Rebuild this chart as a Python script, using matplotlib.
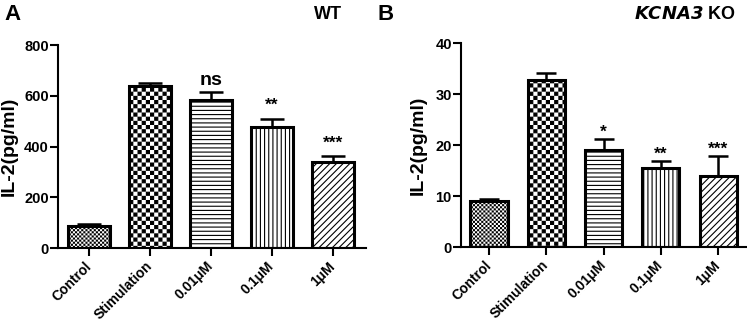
import numpy as np
import matplotlib
matplotlib.use('Agg')
import matplotlib.pyplot as plt
import matplotlib.hatch as mhatch
from matplotlib.path import Path

# checkerboard hatch, takes the place of the small-circle hatch ('o')
HATCH_LW = 0.8


class CheckerHatch(mhatch.HatchPatternBase):
    def __init__(self, hatch, density):
        self.num_cells = hatch.count('o') * 12
        self.num_vertices = (self.num_cells ** 2 // 2) * 5

    def set_vertices_and_codes(self, vertices, codes):
        n = self.num_cells
        s = 1.0 / n
        d = (HATCH_LW * 100 / 72) / 2 / 100
        k = 0
        for i in range(n):
            for j in range(n):
                if (i + j) % 2 == 0:
                    x, y = i * s + d, j * s + d
                    w = s - 2 * d
                    vertices[k:k + 5] = [[x, y], [x + w, y], [x + w, y + w], [x, y + w], [x, y]]
                    codes[k:k + 5] = [Path.MOVETO, Path.LINETO, Path.LINETO, Path.LINETO, Path.CLOSEPOLY]
                    k += 5


mhatch._hatch_types = [CheckerHatch if h is mhatch.SmallCircles else h for h in mhatch._hatch_types]

plt.rcParams['font.family'] = ['Liberation Sans', 'DejaVu Sans']
plt.rcParams['font.weight'] = 'bold'
plt.rcParams['hatch.linewidth'] = HATCH_LW

groups = ['Control', 'Stimulation', '0.01μM', '0.1μM', '1μM']
hatches = ['oooo', 'oo', '----', '||||', '/////']

wt_mean = [88, 638, 585, 478, 340]
wt_err = [6, 12, 30, 32, 22]
wt_sig = ['', '', 'ns', '**', '***']

ko_mean = [9.0, 32.8, 19.1, 15.5, 14.0]
ko_err = [0.5, 1.3, 2.0, 1.3, 3.8]
ko_sig = ['', '', '*', '**', '***']

fig = plt.figure(figsize=(7.47, 3.29), dpi=100)
axA = fig.add_axes([0.0776, 0.246, 0.412, 0.617])
axB = fig.add_axes([0.617, 0.249, 0.382, 0.620])


def panel(ax, mean, err, sig, ymax, ystep, width, xlim, capsize, star_pad, label_x):
    x = np.arange(len(groups))
    ax.errorbar(x, mean, yerr=[np.zeros(len(err)), err], fmt='none', ecolor='black',
                elinewidth=1.8, capsize=capsize, capthick=1.8, zorder=1)
    ax.bar(x, mean, width=width, color='white', edgecolor='black', linewidth=2.2,
           hatch=hatches, zorder=2)
    for xi, m, e, s in zip(x, mean, err, sig):
        if not s:
            continue
        if s == 'ns':
            fs, pad = 14, 2
        else:
            fs, pad = 12.5, star_pad
        ax.annotate(s, (xi, m + e), xytext=(0, pad), textcoords='offset points',
                    ha='center', va='bottom', fontsize=fs, fontweight='bold')
    ax.set_xlim(*xlim)
    ax.set_ylim(0, ymax)
    ax.set_yticks(np.arange(0, ymax + 1, ystep))
    ax.set_xticks(x)
    ax.set_xticklabels(groups, rotation=45, ha='right', va='center', rotation_mode='anchor')
    ax.set_ylabel('IL-2(pg/ml)', fontsize=14, fontweight='bold')
    ax.yaxis.set_label_coords(label_x, 0.5)
    for side in ['top', 'right']:
        ax.spines[side].set_visible(False)
    for side in ['left', 'bottom']:
        ax.spines[side].set_linewidth(1.5)
    ax.tick_params(axis='both', width=1.5, length=5.5)
    ax.tick_params(axis='x', pad=6, labelsize=10)
    ax.tick_params(axis='y', pad=1, labelsize=10.5)


panel(axA, wt_mean, wt_err, wt_sig, 800, 200, 0.69, (-0.51, 4.54), 8.3, 4, -0.13)
panel(axB, ko_mean, ko_err, ko_sig, 40, 10, 0.65, (-0.49, 4.49), 7.2, 0, -0.12)

fig.text(0.006, 0.955, 'A', fontsize=16, fontweight='bold', va='center')
fig.text(0.458, 0.955, 'WT', fontsize=13, fontweight='bold', va='center', ha='right')
fig.text(0.506, 0.955, 'B', fontsize=16, fontweight='bold', va='center')
fig.text(0.985, 0.955, r'$\bfit{KCNA3}$ KO', fontsize=13, fontweight='bold', va='center', ha='right')

plt.savefig('out.png', dpi=100)
